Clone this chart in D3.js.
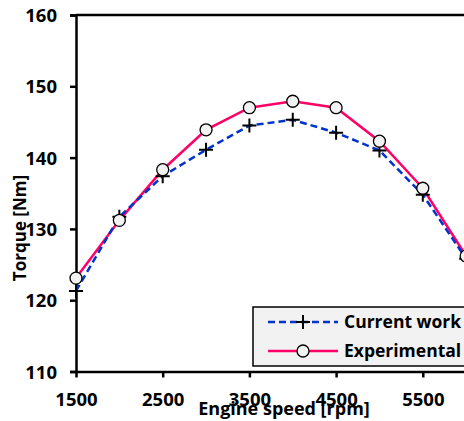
<!DOCTYPE html>
<html lang="en">
<head>
<meta charset="UTF-8">
<title>Torque vs engine speed</title>
<script src="https://cdn.jsdelivr.net/npm/d3@7"></script>
<style>
  body { margin: 0; background: #fff; }
  text { font-family: "Open Sans", sans-serif; font-weight: bold; fill: #000; }
</style>
</head>
<body>
<svg id="main" width="464" height="421"></svg>
<script>
  // data
  var speeds = [1500, 2000, 2500, 3000, 3500, 4000, 4500, 5000, 5500, 6000];
  var currentWork = [121.3, 131.7, 137.4, 141.1, 144.5, 145.3, 143.5, 141.0, 134.8, 125.8];
  var experimental = [123.1, 131.2, 138.3, 143.9, 147.0, 147.9, 147.0, 142.3, 135.7, 126.2];
  var xTicks = [1500, 2500, 3500, 4500, 5500];
  var yTicks = [110, 120, 130, 140, 150, 160];

  var svg = d3.select('svg#main');
  var plotLeft = 76, plotTop = 15, plotBottom = 371.5;

  var x = d3.scaleLinear().domain([1500, 6500]).range([plotLeft, plotLeft + 5 * 86.7]);
  var y = d3.scaleLinear().domain([110, 160]).range([plotBottom, plotTop]);

  // top frame line
  svg.append('line')
      .attr('x1', plotLeft).attr('x2', 600)
      .attr('y1', y(160)).attr('y2', y(160))
      .attr('stroke', '#000').attr('stroke-width', 2.5);

  var yAxis = svg.append('g')
      .attr('transform', 'translate(' + plotLeft + ',0)')
      .call(d3.axisLeft(y).tickValues(yTicks).tickSize(6).tickPadding(13).tickFormat(d3.format('d')));
  var xAxis = svg.append('g')
      .attr('transform', 'translate(0,' + plotBottom + ')')
      .call(d3.axisBottom(x).tickValues(xTicks).tickSize(6).tickPadding(15)
        .tickSizeOuter(0).tickFormat(d3.format('d')));

  [yAxis, xAxis].forEach(function(g) {
    g.select('.domain').attr('stroke', '#000').attr('stroke-width', 2.5);
    g.selectAll('.tick line').attr('stroke', '#000').attr('stroke-width', 2.5);
    g.selectAll('.tick text').style('font-size', '18.5px').attr('fill', '#000');
  });
  yAxis.selectAll('.tick text').attr('dy', '0.36em');

  // axis titles
  svg.append('text')
      .attr('transform', 'translate(26,228) rotate(-90)')
      .attr('text-anchor', 'middle')
      .style('font-size', '17px')
      .text('Torque [Nm]');
  svg.append('text')
      .attr('x', 284).attr('y', 415)
      .attr('text-anchor', 'middle')
      .style('font-size', '18px')
      .text('Engine speed [rpm]');

  var line = d3.line().x(function(d) { return x(d[0]); }).y(function(d) { return y(d[1]); });
  var expData = d3.zip(speeds, experimental);
  var curData = d3.zip(speeds, currentWork);

  var plot = svg.append('g');

  plot.append('path').datum(expData)
      .attr('d', line).attr('fill', 'none')
      .attr('stroke', '#ff0066').attr('stroke-width', 2.5);

  plot.append('path').datum(curData)
      .attr('d', line).attr('fill', 'none')
      .attr('stroke', '#0033cc').attr('stroke-width', 2.5)
      .attr('stroke-dasharray', '7,4');

  function plus(g, cx, cy) {
    g.append('path')
        .attr('d', 'M' + (cx - 7) + ',' + cy + 'H' + (cx + 7) + 'M' + cx + ',' + (cy - 7) + 'V' + (cy + 7))
        .attr('stroke', '#000').attr('stroke-width', 2).attr('fill', 'none');
  }

  curData.forEach(function(d) { plus(plot, x(d[0]), y(d[1])); });

  plot.selectAll('circle.exp').data(expData).enter()
      .append('circle').attr('class', 'exp')
      .attr('cx', function(d) { return x(d[0]); })
      .attr('cy', function(d) { return y(d[1]); })
      .attr('r', 6)
      .attr('fill', '#f2f2f2').attr('stroke', '#000').attr('stroke-width', 1.3);

  // legend
  var lg = svg.append('g').attr('transform', 'translate(253,307)');
  lg.append('rect').attr('width', 260).attr('height', 59)
      .attr('fill', '#f2f2f2').attr('stroke', '#000').attr('stroke-width', 1.5);
  lg.append('line').attr('x1', 15).attr('x2', 85).attr('y1', 15).attr('y2', 15)
      .attr('stroke', '#0033cc').attr('stroke-width', 2.5).attr('stroke-dasharray', '7,4');
  plus(lg, 50, 15);
  lg.append('text').attr('x', 91).attr('y', 15).attr('dy', '0.35em')
      .style('font-size', '17.5px').text('Current work');
  lg.append('line').attr('x1', 15).attr('x2', 85).attr('y1', 44).attr('y2', 44)
      .attr('stroke', '#ff0066').attr('stroke-width', 2.5);
  lg.append('circle').attr('cx', 50).attr('cy', 44).attr('r', 6)
      .attr('fill', '#f2f2f2').attr('stroke', '#000').attr('stroke-width', 1.3);
  lg.append('text').attr('x', 91).attr('y', 44).attr('dy', '0.35em')
      .style('font-size', '17.5px').text('Experimental');
</script>
</body>
</html>
